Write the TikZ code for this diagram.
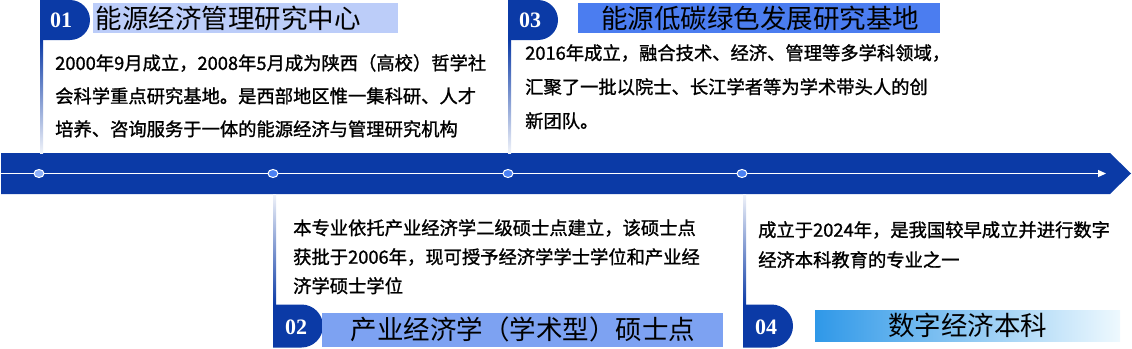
\documentclass[tikz,border=0pt]{standalone}
\usepackage{fontspec}
\newfontfamily\cjk{Noto Sans CJK SC}
\newfontfamily\cjkbody[FakeBold=1.2]{Noto Sans CJK SC}
\newfontfamily\numfont{Liberation Serif}
\usetikzlibrary{arrows.meta,shapes.misc,shapes.geometric}
\definecolor{barblue}{HTML}{0B3AA6}
\definecolor{tone}{HTML}{BCCDF9}
\definecolor{tthree}{HTML}{4B7DF0}
\definecolor{ttwo}{HTML}{7DA2F2}
\definecolor{dotlight}{HTML}{8EB0F8}
\definecolor{dotblue}{HTML}{4A80F2}
\definecolor{fourA}{HTML}{2F98E8}
\definecolor{fourB}{HTML}{5FC0EE}
\definecolor{fourC}{HTML}{EEF9FE}
\begin{document}
\begin{tikzpicture}[x=1pt,y=-1pt,
  badge/.style={rounded rectangle, rounded rectangle left arc=none, fill=barblue, minimum width=50pt, inner sep=0pt},
  num/.style={font=\numfont\bfseries\fontsize{22}{22}\selectfont, text=white, inner sep=0pt},
  ttl/.style={font=\cjk\fontsize{26.5}{26.5}\selectfont, text=black, inner sep=0pt},
  tbox/.style={inner sep=0pt},
  body/.style={align=left, inner sep=0pt, anchor=north west, text=black},
  dot/.style={ellipse, draw=white, line width=1pt, minimum width=10pt, minimum height=8pt, inner sep=0pt}
]
\useasboundingbox (0,0) rectangle (1132,348);
% timeline bar
\fill[barblue] (1,153) -- (1110,153) -- (1131,173.5) -- (1110,194) -- (1,194) -- cycle;
\coordinate (ls) at (1,173.5);
\coordinate (le) at (1106,173.5);
\draw[white, line width=1.2pt, -{Triangle[length=8pt,width=7pt]}] (ls) -- (le);
% dots
\node[dot, fill=dotlight] (d1) at (39,173.5) {};
\node[dot, fill=dotblue] (d2) at (273,173.5) {};
\node[dot, fill=dotblue] (d3) at (508,173.5) {};
\node[dot, fill=dotblue] (d4) at (742,173.5) {};
% badges
\node[badge, minimum height=40pt] (b1) at (65,20) {};
\node[badge, minimum height=40pt] (b3) at (533,20) {};
\node[badge, minimum height=43pt] (b2) at (298,326) {};
\node[badge, minimum height=43pt] (b4) at (768,326) {};
\node[num] (n1) at (61,20) {01};
\node[num] (n3) at (530,20) {03};
\node[num] (n2) at (296,327) {02};
\node[num] (n4) at (766,327) {04};
% vertical gradient lines
\coordinate (v1t) at (40,40);  \coordinate (v1b) at (43,153);
\coordinate (v3t) at (508,40); \coordinate (v3b) at (511,153);
\coordinate (v2t) at (273,194); \coordinate (v2b) at (276,305);
\coordinate (v4t) at (743,194); \coordinate (v4b) at (746,305);
\shade[top color=barblue, bottom color=barblue!6] (v1t) rectangle (v1b);
\shade[top color=barblue, bottom color=barblue!6] (v3t) rectangle (v3b);
\shade[top color=barblue!6, bottom color=barblue] (v2t) rectangle (v2b);
\shade[top color=barblue!6, bottom color=barblue] (v4t) rectangle (v4b);
% title boxes
\node[tbox, fill=tone, minimum width=305pt, minimum height=30pt] (t1) at (245.5,18) {};
\node[tbox, fill=tthree, minimum width=362pt, minimum height=30pt] (t3) at (759,18) {};
\node[tbox, fill=ttwo, minimum width=401pt, minimum height=34pt] (t2) at (522.5,330) {};
\shade[left color=fourA, middle color=fourB, right color=fourC] (815,310) rectangle (1120,341);
\coordinate (t4) at (967.5,325.5);
\node[ttl] (t1txt) at (228,18) {能源经济管理研究中心};
\node[ttl] (t3txt) at (760,18) {能源低碳绿色发展研究基地};
\node[ttl] (t2txt) at (523,329) {产业经济学（学术型）硕士点};
\node[ttl] (t4txt) at (t4) {数字经济本科};
% body texts
\node[body, font=\cjkbody\fontsize{18.3}{33}\selectfont] (p1) at (55,54) {2000年9月成立，2008年5月成为陕西（高校）哲学社\\会科学重点研究基地。是西部地区惟一集科研、人才\\培养、咨询服务于一体的能源经济与管理研究机构};
\node[body, font=\cjkbody\fontsize{18.3}{34}\selectfont] (p3) at (525,44) {2016年成立，融合技术、经济、管理等多学科领域，\\汇聚了一批以院士、长江学者等为学术带头人的创\\新团队。};
\node[body, font=\cjkbody\fontsize{18.3}{29}\selectfont] (p2) at (293,219) {本专业依托产业经济学二级硕士点建立，该硕士点\\获批于2006年，现可授予经济学学士学位和产业经\\济学硕士学位};
\node[body, font=\cjkbody\fontsize{18.3}{30}\selectfont] (p4) at (758,221) {成立于2024年，是我国较早成立并进行数字\\经济本科教育的专业之一};
\end{tikzpicture}
\end{document}
